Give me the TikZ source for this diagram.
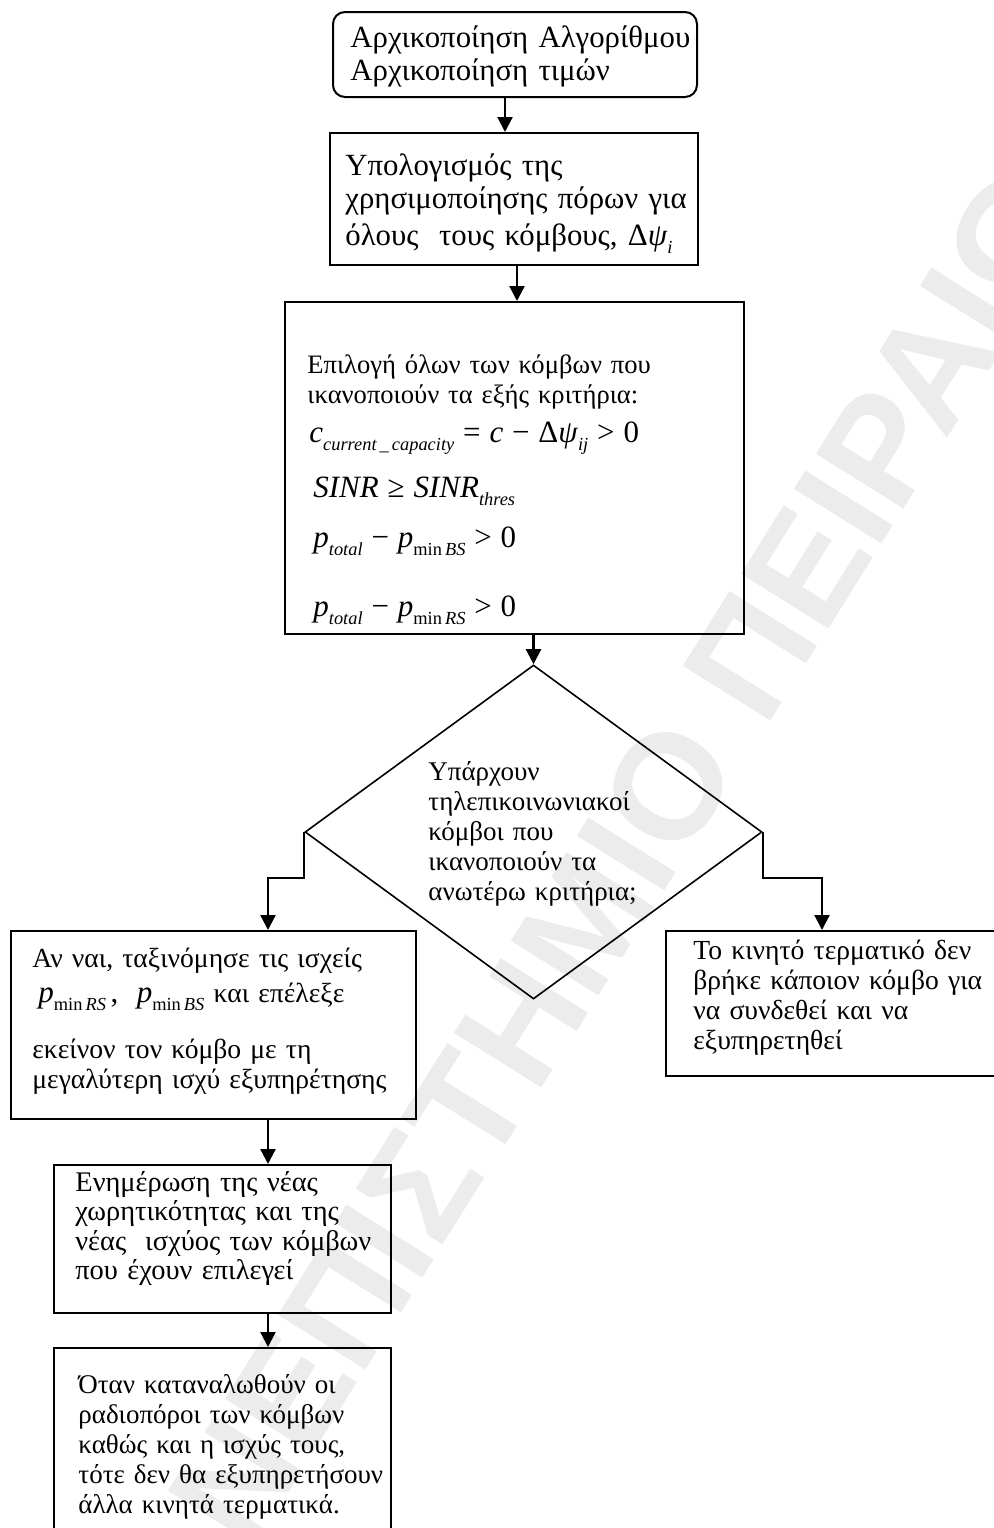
\documentclass[tikz,border=0pt]{standalone}
\usepackage{fontspec}
\setmainfont{Liberation Serif}
\newfontfamily\wmfont{Liberation Sans}
\usetikzlibrary{arrows.meta,shapes.geometric}

% formula sizes and lowered subscripts
\newcommand\fsz{\fontsize{15.5}{15.5}\selectfont}
\newcommand\ssz{\fontsize{9.2}{9.2}\selectfont}
\newcommand\lsub[1]{\raisebox{-4pt}{\ssz #1}}
\lineskiplimit=-100pt

\begin{document}
\begin{tikzpicture}[x=0.5pt,y=-0.5pt,
  boxline/.style={draw=black,line width=1pt,inner sep=0pt},
  procbox/.style={boxline,rectangle},
  startbox/.style={boxline,rectangle,rounded corners=6pt},
  decision/.style={draw=black,line width=0.8pt,diamond,inner sep=0pt},
  txt/.style={anchor=base west,inner sep=0pt,align=left,text width=240pt,font=\fontsize{13.8}{15}\selectfont},
  conn/.style={line width=1.1pt,-{Triangle[length=7.5pt,width=7.5pt]}},
  wm/.style={text=gray!15,font=\wmfont\bfseries\fontsize{75}{75}\selectfont,inner sep=0pt}
]
\useasboundingbox (0,0) rectangle (994,1528);
\clip (0,0) rectangle (994,1528);

% watermark
\node[wm,rotate=58] (wmark) at (592,910) {ΠΑΝΕΠΙΣΤΗΜΙΟ ΠΕΙΡΑΙΩΣ};

% boxes
\node[startbox,minimum width=182pt,minimum height=42.5pt] (b1) at (515,54.5) {};
\node[procbox,minimum width=184pt,minimum height=66pt] (b2) at (514,199) {};
\node[procbox,minimum width=229.5pt,minimum height=166pt] (b3) at (514.5,468) {};
\node[decision,minimum width=228.5pt,minimum height=167pt] (dia) at (533.5,832) {};
\node[procbox,minimum width=202.5pt,minimum height=94pt] (lb) at (213.5,1025) {};
\node[procbox,minimum width=190pt,minimum height=72.5pt] (rb) at (856,1003.5) {};
\node[procbox,minimum width=168.5pt,minimum height=74pt] (b5) at (222.5,1239) {};
\node[procbox,minimum width=168.5pt,minimum height=116pt] (b6) at (222.5,1464) {};

% texts
\node[txt,font=\fontsize{15.4}{16.5}\selectfont] (t1) at (350,47)
  {Αρχικοποίηση Αλγορίθμου\\Αρχικοποίηση τιμών};
\node[txt,font=\fontsize{15.4}{16.5}\selectfont] (t2) at (345,175)
  {Υπολογισμός της\\χρησιμοποίησης πόρων για\\[2pt]όλους\ \ τους κόμβους, {\fsz Δ\textit{ψ}}\lsub{\itshape i}};
\node[txt,font=\fontsize{13.3}{15}\selectfont] (t3) at (307,373)
  {Επιλογή όλων των κόμβων που\\
   ικανοποιούν τα εξής κριτήρια:\\[4.5pt]
   \hspace*{1pt}{\fsz\textit{c}}\lsub{\itshape current\,\_\,capacity}{\fsz\ = \textit{c} − Δ\textit{ψ}}\lsub{\itshape ij}{\fsz\ > 0}\\[10.5pt]
   \hspace*{3pt}{\fsz\textit{SINR} ≥ \textit{SINR}}\lsub{\itshape thres}\\[10pt]
   \hspace*{3pt}{\fsz\textit{p}}\lsub{\itshape total}{\fsz\ − \textit{p}}\lsub{min\,\textit{BS}}{\fsz\ > 0}\\[19.5pt]
   \hspace*{3pt}{\fsz\textit{p}}\lsub{\itshape total}{\fsz\ − \textit{p}}\lsub{min\,\textit{RS}}{\fsz\ > 0}};
\node[txt,font=\fontsize{13.5}{15}\selectfont] (t4) at (428,780)
  {Υπάρχουν\\τηλεπικοινωνιακοί\\κόμβοι που\\ικανοποιούν τα\\ανωτέρω κριτήρια;};
\node[txt] (t5) at (32,967)
  {Αν ναι, ταξινόμησε τις ισχείς\\[2.5pt]
   \hspace*{3pt}{\fsz\textit{p}}\lsub{min\,\textit{RS}}\,{\fsz,}\ \ {\fsz\textit{p}}\lsub{min\,\textit{BS}} και επέλεξε\\[13pt]
   εκείνον τον κόμβο με τη\\
   μεγαλύτερη ισχύ εξυπηρέτησης};
\node[txt] (t6) at (693,959)
  {Το κινητό τερματικό δεν\\βρήκε κάποιον κόμβο για\\να συνδεθεί και να\\εξυπηρετηθεί};
\node[txt,font=\fontsize{14.2}{14.75}\selectfont] (t7) at (75,1191)
  {Ενημέρωση της νέας\\χωρητικότητας και της\\νέας\ \ ισχύος των κόμβων\\που έχουν επιλεγεί};
\node[txt,font=\fontsize{13.5}{15}\selectfont] (t8) at (78,1393)
  {Όταν καταναλωθούν οι\\ραδιοπόροι των κόμβων\\καθώς και η ισχύς τους,\\τότε δεν θα εξυπηρετήσουν\\άλλα κινητά τερματικά.};

% connectors
\draw[conn] (505,0 |- b1.south) -- (505,0 |- b2.north);
\draw[conn] (517,0 |- b2.south) -- (517,0 |- b3.north);
\draw[conn] (b3.south -| dia.north) -- (dia.north);
\draw[conn] (dia.west) |- (268,878) -- (268,0 |- lb.north);
\draw[conn] (dia.east) |- (822,878) -- (822,0 |- rb.north);
\draw[conn] (268,0 |- lb.south) -- (268,0 |- b5.north);
\draw[conn] (268,0 |- b5.south) -- (268,0 |- b6.north);
\end{tikzpicture}
\end{document}
